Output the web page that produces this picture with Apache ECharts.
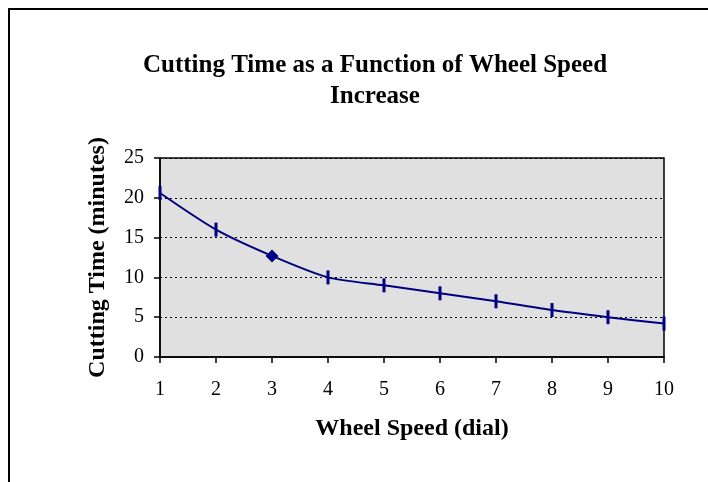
<!DOCTYPE html>
<html>
<head>
<meta charset="utf-8">
<script src="https://cdn.jsdelivr.net/npm/echarts@6/dist/echarts.min.js"></script>
<style>
  html, body { margin: 0; padding: 0; background: #fff; }
  #chart { width: 708px; height: 482px; }
</style>
</head>
<body>
<div id="chart"></div>
<script>
// wheel speed dial settings and cutting time (minutes)
const wheelSpeed = [1, 2, 3, 4, 5, 6, 7, 8, 9, 10];
const cuttingTime = [20.6, 16.0, 12.7, 10.0, 9.0, 8.0, 7.0, 5.9, 5.0, 4.2];
// the one point Excel drew with a diamond marker
const highlightSpeed = 3;

const serif = '"Liberation Serif", "Times New Roman", serif';

const chart = echarts.init(document.getElementById('chart'));

const option = {
  animation: false,
  backgroundColor: '#fff',
  title: {
    text: 'Cutting Time as a Function of Wheel Speed\nIncrease',
    left: 370,
    top: 45,
    textAlign: 'center',
    textStyle: {
      fontFamily: serif,
      fontWeight: 'bold',
      fontSize: 25,
      lineHeight: 31,
      color: '#000'
    }
  },
  graphic: [
    {
      type: 'polyline',
      shape: { points: [[9, 482], [9, 9], [708, 9]] },
      style: { stroke: '#000', lineWidth: 2, fill: null }
    }
  ],
  grid: {
    left: 160,
    right: 44,
    top: 158,
    bottom: 125,
    show: true,
    backgroundColor: '#e0e0e0',
    borderColor: '#000',
    borderWidth: 1.5
  },
  xAxis: {
    type: 'value',
    min: 1,
    max: 10,
    interval: 1,
    name: 'Wheel Speed (dial)',
    nameLocation: 'middle',
    nameGap: 60,
    nameTextStyle: {
      fontFamily: serif,
      fontWeight: 'bold',
      fontSize: 24,
      color: '#000'
    },
    axisLine: { lineStyle: { color: '#000', width: 1.5 } },
    axisTick: { show: true, length: 6, lineStyle: { color: '#000', width: 1.5 } },
    axisLabel: {
      fontFamily: serif,
      fontSize: 20,
      color: '#000',
      margin: 23
    },
    splitLine: { show: false }
  },
  yAxis: {
    type: 'value',
    min: 0,
    max: 25,
    interval: 5,
    name: 'Cutting Time (minutes)',
    nameLocation: 'middle',
    nameGap: 50,
    nameTextStyle: {
      fontFamily: serif,
      fontWeight: 'bold',
      fontSize: 24,
      color: '#000'
    },
    axisLine: { show: true, lineStyle: { color: '#000', width: 1.5 } },
    axisTick: { show: true, length: 6, lineStyle: { color: '#000', width: 1.5 } },
    axisLabel: {
      fontFamily: serif,
      fontSize: 20,
      color: '#000',
      margin: 16
    },
    splitLine: {
      show: true,
      lineStyle: { color: '#000', type: [2, 3], width: 1.2 }
    }
  },
  series: [
    {
      name: 'Cutting Time',
      type: 'line',
      smooth: 0.25,
      data: wheelSpeed.map((s, i) => {
        if (s === highlightSpeed) {
          return { value: [s, cuttingTime[i]], symbol: 'diamond', symbolSize: 13 };
        }
        return [s, cuttingTime[i]];
      }),
      symbol: 'rect',
      symbolSize: [3, 14],
      showAllSymbol: true,
      lineStyle: { color: '#000080', width: 2 },
      itemStyle: { color: '#000080' }
    }
  ]
};

chart.setOption(option);
</script>
</body>
</html>
